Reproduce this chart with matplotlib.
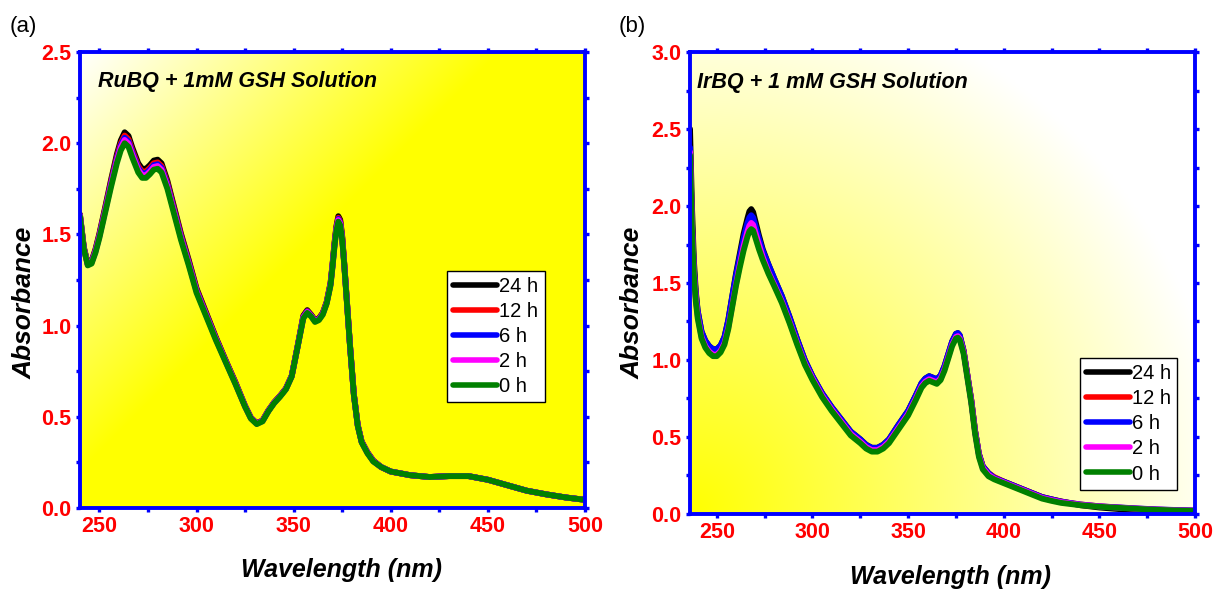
import numpy as np
import matplotlib
matplotlib.use("Agg")
import matplotlib.pyplot as plt

plt.rcParams["font.family"] = ["Liberation Sans", "DejaVu Sans"]

labels = ["24 h", "12 h", "6 h", "2 h", "0 h"]
colors = ["black", "#ff0000", "#0000ff", "#ff00ff", "#008000"]

# panel (a): RuBQ + 1 mM GSH
ru_wl = [240, 242, 244, 246, 248, 250, 253, 256, 259, 261, 263, 265, 267, 270, 272,
         274, 276, 278, 280, 282, 285, 288, 292, 296, 300, 305, 310, 315, 320, 325,
         328, 331, 334, 337, 340, 343, 346, 349, 352, 355, 357, 359, 361, 363, 365,
         367, 369, 370, 371, 372, 373, 374, 375, 376, 377, 379, 381, 383, 385, 388,
         391, 395, 400, 410, 420, 430, 440, 450, 460, 470, 480, 490, 500]
ru_0h = [1.60, 1.42, 1.33, 1.34, 1.40, 1.48, 1.62, 1.76, 1.89, 1.96, 2.00, 1.98, 1.92, 1.84, 1.81,
         1.81, 1.83, 1.855, 1.86, 1.84, 1.75, 1.63, 1.47, 1.33, 1.18, 1.05, 0.92, 0.80, 0.68, 0.555,
         0.49, 0.46, 0.475, 0.53, 0.575, 0.61, 0.65, 0.72, 0.88, 1.04, 1.07, 1.05, 1.02, 1.03, 1.06,
         1.12, 1.22, 1.32, 1.43, 1.52, 1.57, 1.55, 1.47, 1.34, 1.19, 0.89, 0.62, 0.45, 0.36, 0.30,
         0.255, 0.225, 0.20, 0.18, 0.17, 0.175, 0.175, 0.155, 0.125, 0.095, 0.075, 0.058, 0.045]
ru_2h = [1.603, 1.423, 1.333, 1.345, 1.406, 1.488, 1.629, 1.772, 1.905, 1.977, 2.018, 1.998, 1.937, 1.855, 1.825,
         1.825, 1.845, 1.87, 1.875, 1.855, 1.764, 1.642, 1.481, 1.339, 1.188, 1.056, 0.925, 0.803, 0.683, 0.557,
         0.492, 0.462, 0.477, 0.532, 0.577, 0.612, 0.652, 0.722, 0.882, 1.045, 1.075, 1.053, 1.023, 1.033, 1.063,
         1.123, 1.225, 1.325, 1.436, 1.528, 1.579, 1.559, 1.476, 1.343, 1.193, 0.892, 0.622, 0.452, 0.362, 0.302,
         0.257, 0.225, 0.20, 0.18, 0.17, 0.175, 0.175, 0.155, 0.125, 0.095, 0.075, 0.058, 0.045]
ru_6h = [1.605, 1.425, 1.335, 1.348, 1.41, 1.493, 1.635, 1.78, 1.915, 1.988, 2.03, 2.01, 1.948, 1.865, 1.835,
         1.835, 1.855, 1.88, 1.885, 1.865, 1.773, 1.65, 1.488, 1.345, 1.193, 1.06, 0.928, 0.805, 0.685, 0.558,
         0.493, 0.463, 0.478, 0.533, 0.578, 0.613, 0.653, 0.723, 0.883, 1.048, 1.078, 1.055, 1.025, 1.035, 1.065,
         1.125, 1.228, 1.328, 1.44, 1.533, 1.585, 1.565, 1.48, 1.345, 1.195, 0.893, 0.623, 0.453, 0.363, 0.303,
         0.258, 0.225, 0.20, 0.18, 0.17, 0.175, 0.175, 0.155, 0.125, 0.095, 0.075, 0.058, 0.045]
ru_12h = [1.607, 1.427, 1.337, 1.35, 1.414, 1.498, 1.641, 1.788, 1.925, 1.998, 2.042, 2.022, 1.958, 1.875, 1.845,
          1.845, 1.865, 1.89, 1.895, 1.875, 1.782, 1.658, 1.495, 1.351, 1.198, 1.064, 0.93, 0.807, 0.687, 0.558,
          0.494, 0.464, 0.479, 0.534, 0.579, 0.614, 0.654, 0.724, 0.884, 1.05, 1.08, 1.057, 1.027, 1.037, 1.067,
          1.127, 1.23, 1.33, 1.444, 1.538, 1.591, 1.571, 1.484, 1.347, 1.197, 0.894, 0.624, 0.454, 0.364, 0.304,
          0.259, 0.225, 0.20, 0.18, 0.17, 0.175, 0.175, 0.155, 0.125, 0.095, 0.075, 0.058, 0.045]
ru_24h = [1.61, 1.43, 1.34, 1.355, 1.42, 1.505, 1.65, 1.80, 1.94, 2.015, 2.06, 2.04, 1.975, 1.89, 1.86,
          1.86, 1.88, 1.905, 1.91, 1.89, 1.795, 1.67, 1.505, 1.36, 1.205, 1.07, 0.935, 0.81, 0.69, 0.56,
          0.495, 0.465, 0.48, 0.535, 0.58, 0.615, 0.655, 0.725, 0.885, 1.055, 1.085, 1.06, 1.03, 1.04, 1.07,
          1.13, 1.235, 1.335, 1.45, 1.545, 1.60, 1.58, 1.49, 1.35, 1.20, 0.895, 0.625, 0.455, 0.365, 0.305,
          0.26, 0.225, 0.20, 0.18, 0.17, 0.175, 0.175, 0.155, 0.125, 0.095, 0.075, 0.058, 0.045]

# panel (b): IrBQ + 1 mM GSH
ir_wl = [236, 237, 238, 239, 240, 242, 244, 246, 248, 250, 252, 254, 256, 258, 260,
         262, 264, 266, 267, 268, 269, 270, 272, 274, 277, 280, 284, 288, 292, 296,
         300, 305, 310, 315, 320, 325, 328, 331, 334, 337, 340, 345, 350, 354, 357,
         359, 361, 363, 365, 367, 369, 371, 373, 375, 376, 377, 379, 381, 383, 385,
         387, 389, 392, 395, 400, 405, 410, 415, 420, 425, 430, 440, 450, 460, 470,
         480, 490, 500]
ir_0h = [2.33, 1.85, 1.55, 1.38, 1.27, 1.14, 1.08, 1.045, 1.025, 1.025, 1.05, 1.10, 1.20, 1.34, 1.48,
         1.60, 1.71, 1.80, 1.835, 1.85, 1.84, 1.80, 1.72, 1.65, 1.56, 1.48, 1.37, 1.24, 1.10, 0.97,
         0.87, 0.76, 0.67, 0.59, 0.51, 0.46, 0.425, 0.405, 0.405, 0.425, 0.46, 0.55, 0.64, 0.74, 0.82,
         0.85, 0.865, 0.855, 0.845, 0.87, 0.93, 1.01, 1.09, 1.14, 1.145, 1.13, 1.04, 0.88, 0.72, 0.52,
         0.37, 0.29, 0.245, 0.225, 0.20, 0.175, 0.15, 0.125, 0.10, 0.085, 0.072, 0.057, 0.047, 0.04, 0.033,
         0.027, 0.023, 0.02]
ir_2h = [2.35, 1.87, 1.57, 1.40, 1.285, 1.15, 1.09, 1.055, 1.035, 1.035, 1.06, 1.11, 1.21, 1.35, 1.49,
         1.62, 1.74, 1.835, 1.872, 1.89, 1.878, 1.835, 1.75, 1.67, 1.57, 1.49, 1.38, 1.25, 1.11, 0.98,
         0.88, 0.77, 0.68, 0.60, 0.52, 0.47, 0.435, 0.415, 0.415, 0.435, 0.47, 0.56, 0.65, 0.75, 0.83,
         0.86, 0.875, 0.865, 0.855, 0.88, 0.94, 1.02, 1.10, 1.15, 1.155, 1.14, 1.05, 0.89, 0.73, 0.53,
         0.38, 0.30, 0.255, 0.23, 0.205, 0.18, 0.155, 0.13, 0.105, 0.09, 0.077, 0.06, 0.049, 0.041, 0.034,
         0.028, 0.024, 0.021]
ir_6h = [2.38, 1.90, 1.60, 1.43, 1.32, 1.185, 1.125, 1.09, 1.07, 1.07, 1.095, 1.15, 1.26, 1.41, 1.55,
         1.67, 1.79, 1.89, 1.925, 1.94, 1.925, 1.88, 1.79, 1.71, 1.62, 1.53, 1.415, 1.28, 1.135, 1.00,
         0.895, 0.785, 0.695, 0.615, 0.535, 0.485, 0.45, 0.43, 0.43, 0.45, 0.485, 0.58, 0.67, 0.77, 0.85,
         0.88, 0.895, 0.885, 0.875, 0.90, 0.96, 1.04, 1.12, 1.17, 1.175, 1.16, 1.06, 0.90, 0.74, 0.54,
         0.39, 0.31, 0.265, 0.235, 0.21, 0.185, 0.16, 0.135, 0.11, 0.095, 0.08, 0.062, 0.05, 0.043, 0.036,
         0.03, 0.026, 0.023]
ir_12h = [2.36, 1.88, 1.58, 1.41, 1.30, 1.16, 1.10, 1.065, 1.045, 1.045, 1.07, 1.12, 1.22, 1.36, 1.50,
          1.63, 1.75, 1.85, 1.89, 1.91, 1.895, 1.85, 1.76, 1.68, 1.58, 1.50, 1.39, 1.26, 1.12, 0.99,
          0.89, 0.78, 0.69, 0.61, 0.53, 0.48, 0.445, 0.425, 0.425, 0.445, 0.48, 0.57, 0.66, 0.76, 0.84,
          0.87, 0.885, 0.875, 0.865, 0.89, 0.95, 1.03, 1.11, 1.16, 1.165, 1.15, 1.06, 0.90, 0.74, 0.54,
          0.39, 0.31, 0.265, 0.24, 0.21, 0.185, 0.16, 0.135, 0.11, 0.095, 0.08, 0.062, 0.05, 0.042, 0.035,
          0.029, 0.025, 0.022]
ir_24h = [2.50, 2.00, 1.65, 1.45, 1.32, 1.185, 1.125, 1.09, 1.07, 1.07, 1.095, 1.15, 1.26, 1.41, 1.56,
          1.69, 1.82, 1.92, 1.965, 1.98, 1.96, 1.91, 1.81, 1.72, 1.62, 1.53, 1.415, 1.28, 1.135, 1.00,
          0.895, 0.785, 0.695, 0.615, 0.535, 0.485, 0.45, 0.43, 0.43, 0.45, 0.485, 0.58, 0.67, 0.77, 0.85,
          0.88, 0.895, 0.885, 0.875, 0.90, 0.96, 1.04, 1.12, 1.17, 1.175, 1.16, 1.06, 0.90, 0.74, 0.54,
          0.39, 0.31, 0.265, 0.235, 0.21, 0.185, 0.16, 0.135, 0.11, 0.095, 0.082, 0.057, 0.042, 0.032, 0.023,
          0.017, 0.011, 0.008]

fig = plt.figure(figsize=(12.17, 5.91), dpi=100)


def linear_bg(n=300):
    # white in the top-left corner, fading to yellow along the diagonal
    u, v = np.meshgrid(np.linspace(0, 1, n), np.linspace(1, 0, n))
    s = (u * 505 + (1 - v) * 456) / 420.0
    t = np.clip(s, 0, 1)
    img = np.ones((n, n, 3))
    img[..., 2] = 1 - t
    return img


def radial_bg(n=300):
    # yellow in the bottom-left corner, fading to white outwards
    u, v = np.meshgrid(np.linspace(0, 1, n), np.linspace(1, 0, n))
    dist = np.hypot(u * 505, v * 462)
    t = np.clip(1 - dist / 540.0, 0, 1)
    img = np.ones((n, n, 3))
    img[..., 2] = 1 - t
    return img


def style_axes(ax, xlim, ylim, yticks):
    ax.set_xlim(*xlim)
    ax.set_ylim(*ylim)
    ax.set_xticks([250, 300, 350, 400, 450, 500])
    ax.set_xticks(np.arange(250, 501, 25), minor=True)
    ax.set_yticks(yticks)
    ax.set_yticks(np.arange(0, ylim[1] + 0.01, 0.25), minor=True)
    for sp in ax.spines.values():
        sp.set_color("#0000ff")
        sp.set_linewidth(2.8)
    ax.tick_params(which="both", direction="out", color="#0000ff", width=2.4,
                   top=True, right=True, length=3, pad=3)
    ax.tick_params(which="major", labelcolor="#ff0000", labelsize=15.5)
    for lab in ax.get_xticklabels() + ax.get_yticklabels():
        lab.set_fontweight("bold")


panels = [
    ([0.0657, 0.1404, 0.415, 0.7716], ru_wl, [ru_24h, ru_12h, ru_6h, ru_2h, ru_0h],
     (240, 500), (0, 2.5), [0.0, 0.5, 1.0, 1.5, 2.0, 2.5], linear_bg(),
     "RuBQ + 1mM GSH Solution", (0.035, 0.935), (0.727, 0.52),
     (0.281, 0.036), 0.0205),
    ([0.567, 0.1303, 0.415, 0.7817], ir_wl, [ir_24h, ir_12h, ir_6h, ir_2h, ir_0h],
     (236, 500), (0, 3.0), [0.0, 0.5, 1.0, 1.5, 2.0, 2.5, 3.0], radial_bg(),
     "IrBQ + 1 mM GSH Solution", (0.014, 0.935), (0.772, 0.337),
     (0.781, 0.024), 0.520),
]

for rect, wl, series, xlim, ylim, yticks, bg, title, tpos, lpos, xl, yl in panels:
    ax = fig.add_axes(rect)
    ax.imshow(bg, extent=[0, 1, 0, 1], transform=ax.transAxes, aspect="auto",
              zorder=0, interpolation="bilinear")
    for y, c, lab in zip(series, colors, labels):
        ax.plot(wl, y, color=c, lw=4.2, label=lab, solid_capstyle="round", zorder=2)
    style_axes(ax, xlim, ylim, yticks)
    ax.text(tpos[0], tpos[1], title, transform=ax.transAxes, fontsize=15.5,
            fontweight="bold", fontstyle="italic", va="center", ha="left")
    fig.text(xl[0], xl[1], "Wavelength (nm)", fontsize=18, fontweight="bold",
             fontstyle="italic", ha="center", va="center")
    fig.text(yl, 0.488, "Absorbance", fontsize=19, fontweight="bold",
             fontstyle="italic", ha="center", va="center", rotation=90)
    leg = ax.legend(loc="upper left", bbox_to_anchor=lpos,
                    fontsize=14.5, handlelength=2.2, handletextpad=0.1,
                    labelspacing=0.3, borderpad=0.3, borderaxespad=0,
                    fancybox=False, framealpha=1, edgecolor="black")
    leg.get_frame().set_linewidth(1.0)
    for line in leg.get_lines():
        line.set_linewidth(4.0)

fig.text(0.008, 0.955, "(a)", fontsize=16, va="center", ha="left")
fig.text(0.508, 0.955, "(b)", fontsize=16, va="center", ha="left")

fig.savefig("out.png", dpi=100)
